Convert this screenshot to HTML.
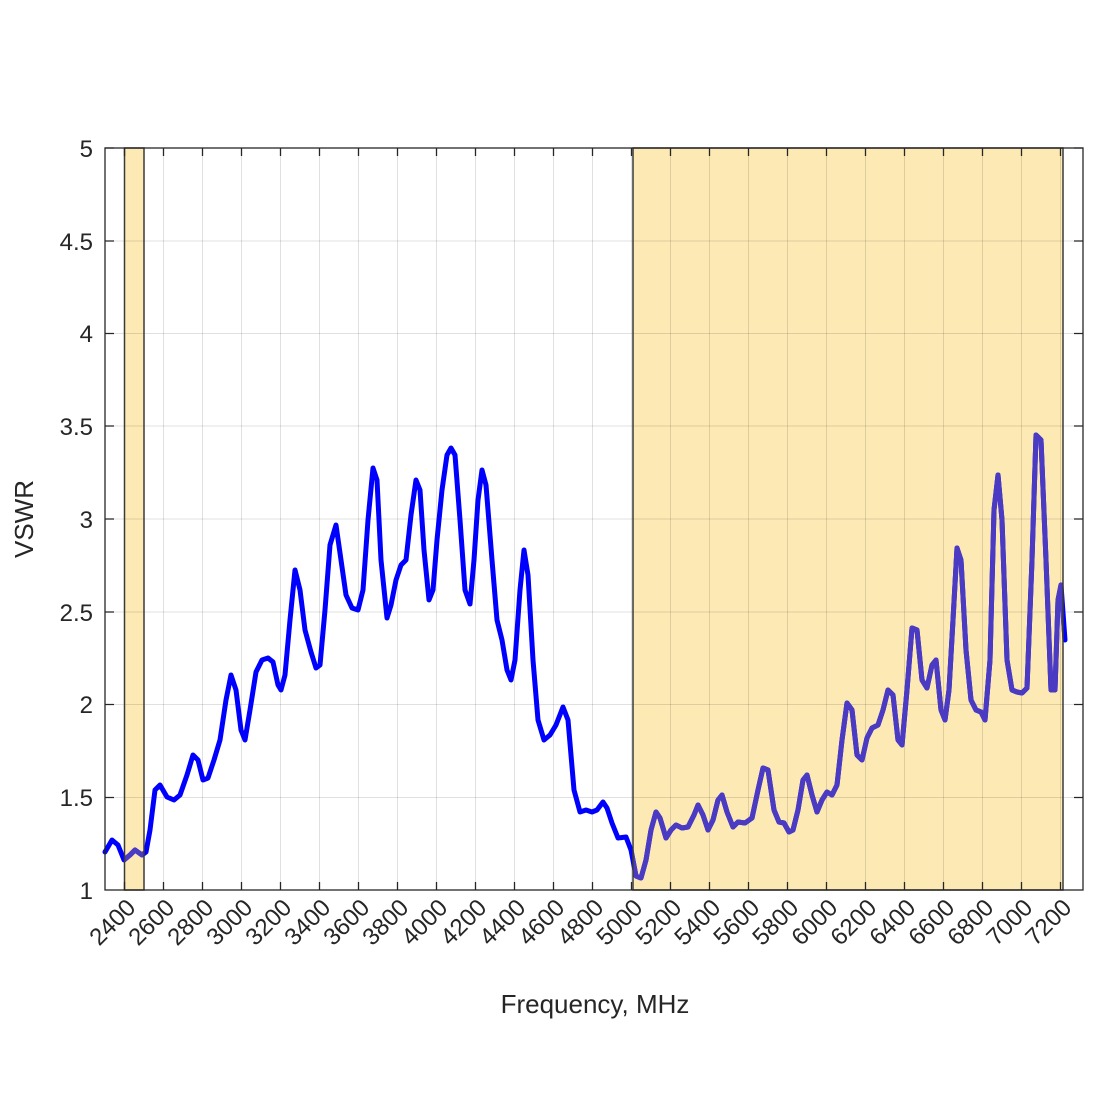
<!DOCTYPE html>
<html><head><meta charset="utf-8"><style>body{margin:0;background:#fff}svg{display:block}</style></head>
<body>
<svg width="1100" height="1100" viewBox="0 0 1100 1100" xmlns="http://www.w3.org/2000/svg" font-family="Liberation Sans, sans-serif" fill="#262626">
<defs>
<clipPath id="sh"><rect x="124.5" y="148" width="19.5" height="742"/><rect x="633" y="148" width="430" height="742"/></clipPath>
<polyline id="ln" fill="none" stroke-width="5" stroke-linejoin="round" stroke-linecap="round" points="105,852 112,840 118,845 124,860 130,855 135,850 142,855 146,852 150,830 155,790 160,785 167,797 174,800 180,795 187,775 193,755 198,760 203,780 208,778 214,760 220,740 226,700 231,675 236,690 241,730 245,740 250,710 256,672 262,660 268,658 273,662 278,685 281,690 285,675 290,620 295,570 300,590 305,630 311,652 316,668 320,665 325,610 330,545 336,525 341,560 346,595 352,608 358,610 363,590 368,520 373,468 377,480 381,560 387,618 391,605 396,580 401,565 406,560 411,515 416,480 420,490 424,550 429,600 433,590 437,540 442,490 447,455 451,448 455,455 460,520 465,590 470,604 474,560 478,500 482,470 486,485 492,560 497,620 502,640 507,670 511,680 515,660 520,590 524,550 528,575 533,660 538,720 544,740 550,735 556,725 563,707 568,720 574,790 580,812 586,810 592,812 597,810 603,802 607,808 612,823 618,838 626,837 631,850 636,876 641,878 646,860 651,830 656,812 660,818 666,838 671,830 676,825 682,828 688,827 694,815 698,805 703,815 708,830 713,820 718,800 722,795 727,812 733,827 738,822 745,823 752,818 758,790 763,768 768,770 774,810 779,822 784,823 789,832 793,830 798,810 803,780 807,775 812,795 817,812 822,800 827,792 832,795 837,785 842,740 847,703 852,710 857,755 862,760 867,738 872,728 878,725 883,710 888,690 893,695 898,740 902,745 907,690 912,628 917,630 922,680 927,688 932,665 936,660 941,710 945,720 949,690 953,620 957,548 961,560 966,650 971,700 976,710 981,712 985,720 990,660 994,510 998,475 1002,520 1007,660 1012,690 1017,692 1022,693 1027,688 1032,560 1036,435 1041,440 1046,560 1051,690 1055,690 1058,600 1061,585 1065,640"/>
</defs>
<rect width="1100" height="1100" fill="#fff"/>
<g fill="#FDE9B3">
<rect x="124.5" y="148" width="19.5" height="742"/>
<rect x="633" y="148" width="430" height="742"/>
</g>
<g stroke="#000" stroke-opacity="0.12" stroke-width="1">
<path d="M124.5 148V890M163.5 148V890M202.5 148V890M241.5 148V890M280.5 148V890M319.5 148V890M358.5 148V890M397.5 148V890M436.5 148V890M475.5 148V890M514.5 148V890M553.5 148V890M592.5 148V890M631.5 148V890M670.5 148V890M709.5 148V890M748.5 148V890M787.5 148V890M826.5 148V890M865.5 148V890M904.5 148V890M943.5 148V890M982.5 148V890M1021.5 148V890M1060.5 148V890"/>
<path d="M105 241H1083M105 333.5H1083M105 426H1083M105 519H1083M105 612H1083M105 704.5H1083M105 797.5H1083"/>
</g>
<use href="#ln" stroke="#0000ff"/>
<g clip-path="url(#sh)"><use href="#ln" stroke="#4a3bc2"/></g>
<g fill="none" stroke="#3a3a3a" stroke-width="1.5">
<rect x="124.5" y="148" width="19.5" height="742"/>
<rect x="633" y="148" width="430" height="742"/>
</g>
<rect x="105" y="148" width="978" height="742" fill="none" stroke="#262626" stroke-width="1.3"/>
<g stroke="#262626" stroke-width="1.3">
<path d="M124.5 890v-8M163.5 890v-8M202.5 890v-8M241.5 890v-8M280.5 890v-8M319.5 890v-8M358.5 890v-8M397.5 890v-8M436.5 890v-8M475.5 890v-8M514.5 890v-8M553.5 890v-8M592.5 890v-8M631.5 890v-8M670.5 890v-8M709.5 890v-8M748.5 890v-8M787.5 890v-8M826.5 890v-8M865.5 890v-8M904.5 890v-8M943.5 890v-8M982.5 890v-8M1021.5 890v-8M1060.5 890v-8"/>
<path d="M124.5 148v8M163.5 148v8M202.5 148v8M241.5 148v8M280.5 148v8M319.5 148v8M358.5 148v8M397.5 148v8M436.5 148v8M475.5 148v8M514.5 148v8M553.5 148v8M592.5 148v8M631.5 148v8M670.5 148v8M709.5 148v8M748.5 148v8M787.5 148v8M826.5 148v8M865.5 148v8M904.5 148v8M943.5 148v8M982.5 148v8M1021.5 148v8M1060.5 148v8"/>
<path d="M105 148h9M105 241h9M105 333.5h9M105 426h9M105 519h9M105 612h9M105 704.5h9M105 797.5h9M1083 148h-9M1083 241h-9M1083 333.5h-9M1083 426h-9M1083 519h-9M1083 612h-9M1083 704.5h-9M1083 797.5h-9"/>
</g>
<g font-size="24" text-anchor="end">
<text x="93" y="157">5</text><text x="93" y="250">4.5</text><text x="93" y="342">4</text><text x="93" y="435">3.5</text><text x="93" y="528">3</text><text x="93" y="621">2.5</text><text x="93" y="713">2</text><text x="93" y="806">1.5</text><text x="93" y="899">1</text>
</g>
<g font-size="24" text-anchor="end">
<text transform="translate(137,909) rotate(-45)">2400</text><text transform="translate(176,909) rotate(-45)">2600</text><text transform="translate(215,909) rotate(-45)">2800</text><text transform="translate(254,909) rotate(-45)">3000</text><text transform="translate(293,909) rotate(-45)">3200</text><text transform="translate(332,909) rotate(-45)">3400</text><text transform="translate(371,909) rotate(-45)">3600</text><text transform="translate(410,909) rotate(-45)">3800</text><text transform="translate(449,909) rotate(-45)">4000</text><text transform="translate(488,909) rotate(-45)">4200</text><text transform="translate(527,909) rotate(-45)">4400</text><text transform="translate(566,909) rotate(-45)">4600</text><text transform="translate(605,909) rotate(-45)">4800</text><text transform="translate(644,909) rotate(-45)">5000</text><text transform="translate(683,909) rotate(-45)">5200</text><text transform="translate(722,909) rotate(-45)">5400</text><text transform="translate(761,909) rotate(-45)">5600</text><text transform="translate(800,909) rotate(-45)">5800</text><text transform="translate(839,909) rotate(-45)">6000</text><text transform="translate(878,909) rotate(-45)">6200</text><text transform="translate(917,909) rotate(-45)">6400</text><text transform="translate(956,909) rotate(-45)">6600</text><text transform="translate(995,909) rotate(-45)">6800</text><text transform="translate(1034,909) rotate(-45)">7000</text><text transform="translate(1073,909) rotate(-45)">7200</text>
</g>
<text x="595" y="1013" font-size="26" text-anchor="middle">Frequency, MHz</text>
<text transform="translate(33,519) rotate(-90)" font-size="26" text-anchor="middle">VSWR</text>
</svg>
</body></html>
